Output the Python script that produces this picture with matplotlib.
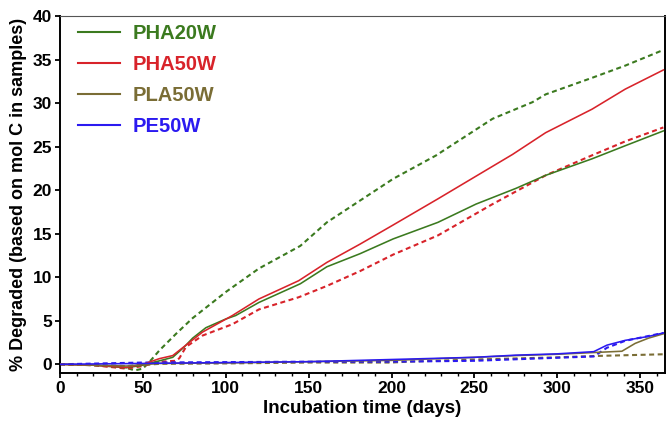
import matplotlib
matplotlib.use("Agg")
import matplotlib.pyplot as plt
from matplotlib.ticker import MultipleLocator

plt.rcParams['font.family'] = ['Liberation Sans', 'DejaVu Sans']

# PHA20W (green)
pha20_solid_x = [0, 20, 40, 50, 60, 68, 75, 80, 88, 100, 106, 120, 145, 161, 181, 201, 228, 251, 275, 293, 321, 341, 364]
pha20_solid_y = [0, -0.1, -0.4, -0.1, 0.4, 0.8, 2.0, 3.0, 4.2, 5.2, 5.6, 7.1, 9.25, 11.2, 12.7, 14.4, 16.3, 18.4, 20.2, 21.7, 23.6, 25.1, 26.8]
pha20_dash_x = [0, 20, 40, 45, 50, 55, 60, 70, 80, 90, 100, 120, 145, 161, 181, 201, 227, 231, 261, 285, 293, 321, 341, 364]
pha20_dash_y = [0, -0.1, -0.4, -0.7, -0.5, 0.5, 1.6, 3.5, 5.3, 6.8, 8.3, 11.0, 13.6, 16.3, 18.8, 21.3, 24.0, 24.5, 28.2, 30.1, 31.0, 32.9, 34.3, 36.1]

# PHA50W (red)
pha50_solid_x = [0, 20, 40, 50, 60, 68, 76, 86, 104, 120, 144, 161, 181, 201, 228, 273, 293, 321, 341, 364]
pha50_solid_y = [0, -0.1, -0.35, 0, 0.65, 1.0, 2.2, 3.7, 5.6, 7.5, 9.6, 11.7, 13.8, 16.0, 19.0, 24.1, 26.6, 29.3, 31.6, 33.8]
pha50_dash_x = [0, 20, 40, 50, 60, 70, 72, 76, 86, 104, 120, 144, 161, 181, 201, 228, 261, 293, 321, 341, 364]
pha50_dash_y = [0, -0.1, -0.5, -0.2, 0.3, 0.4, 0.7, 2.0, 3.3, 4.6, 6.3, 7.7, 9.0, 10.7, 12.6, 14.8, 18.4, 21.7, 24.0, 25.6, 27.2]

# PLA50W (olive)
pla50_solid_x = [0, 40, 60, 100, 150, 200, 250, 275, 300, 322, 339, 347, 355, 364]
pla50_solid_y = [0, -0.2, 0.1, 0.15, 0.3, 0.45, 0.8, 1.0, 1.15, 1.35, 1.5, 2.4, 3.0, 3.5]
pla50_dash_x = [0, 40, 60, 100, 150, 200, 210, 250, 300, 322, 364]
pla50_dash_y = [0, -0.2, 0.05, 0.1, 0.2, 0.2, 0.3, 0.55, 0.8, 0.95, 1.15]

# PE50W (blue)
pe50_solid_x = [0, 50, 100, 150, 200, 250, 275, 300, 322, 330, 341, 355, 364]
pe50_solid_y = [0, 0.1, 0.2, 0.3, 0.55, 0.8, 1.05, 1.2, 1.45, 2.2, 2.75, 3.2, 3.6]
pe50_dash_x = [0, 50, 100, 150, 200, 250, 300, 322, 330, 341, 364]
pe50_dash_y = [0, 0.2, 0.25, 0.3, 0.3, 0.4, 0.75, 0.9, 1.9, 2.7, 3.6]

labels = ["PHA20W", "PHA50W", "PLA50W", "PE50W"]
colors = ["#3b7a1f", "#d8232a", "#7a6d35", "#2b1af0"]

fig = plt.figure(figsize=(6.67, 4.29), dpi=100)
ax = fig.add_axes([60/667, 56/429, 605/667, 357/429])

dash = (0, (2.4, 1.7))
series = [
    (pha20_solid_x, pha20_solid_y, pha20_dash_x, pha20_dash_y),
    (pha50_solid_x, pha50_solid_y, pha50_dash_x, pha50_dash_y),
    (pla50_solid_x, pla50_solid_y, pla50_dash_x, pla50_dash_y),
    (pe50_solid_x, pe50_solid_y, pe50_dash_x, pe50_dash_y),
]
handles = []
for (sx, sy, dx, dy), c, lab in zip(series, colors, labels):
    ax.plot(dx, dy, color=c, lw=1.5, linestyle=dash, zorder=2)
    h, = ax.plot(sx, sy, color=c, lw=1.15, zorder=3, label=lab)
    handles.append(h)

ax.set_xlim(0, 365)
ax.set_ylim(-1, 40)
ax.xaxis.set_major_locator(MultipleLocator(50))
ax.xaxis.set_minor_locator(MultipleLocator(10))
ax.yaxis.set_major_locator(MultipleLocator(5))
ax.tick_params(axis='both', which='major', direction='out', length=3.6, width=1.3,
               labelsize=12.5, pad=2)
ax.tick_params(axis='x', which='minor', direction='out', length=2.2, width=1.0)
for lab in ax.get_xticklabels() + ax.get_yticklabels():
    lab.set_fontweight('bold')

for s in ['left', 'bottom', 'right']:
    ax.spines[s].set_linewidth(1.4)
    ax.spines[s].set_color('black')
ax.spines['top'].set_linewidth(0.8)
ax.spines['top'].set_color('#555555')

ax.set_xlabel("Incubation time (days)", fontsize=13.5, fontweight='bold', labelpad=3)
ax.set_ylabel("% Degraded (based on mol C in samples)", fontsize=13, fontweight='bold', labelpad=4)

leg = ax.legend(handles=handles, loc='upper left', frameon=False,
                bbox_to_anchor=(18/605, 1 - 8/357),
                prop={'weight': 'bold', 'size': 14.5}, handlelength=2.1,
                handletextpad=0.6, labelspacing=0.6, borderaxespad=0, borderpad=0,
                labelcolor=colors)
for line in leg.get_lines():
    line.set_linewidth(1.5)

fig.savefig("out.png", dpi=100)
